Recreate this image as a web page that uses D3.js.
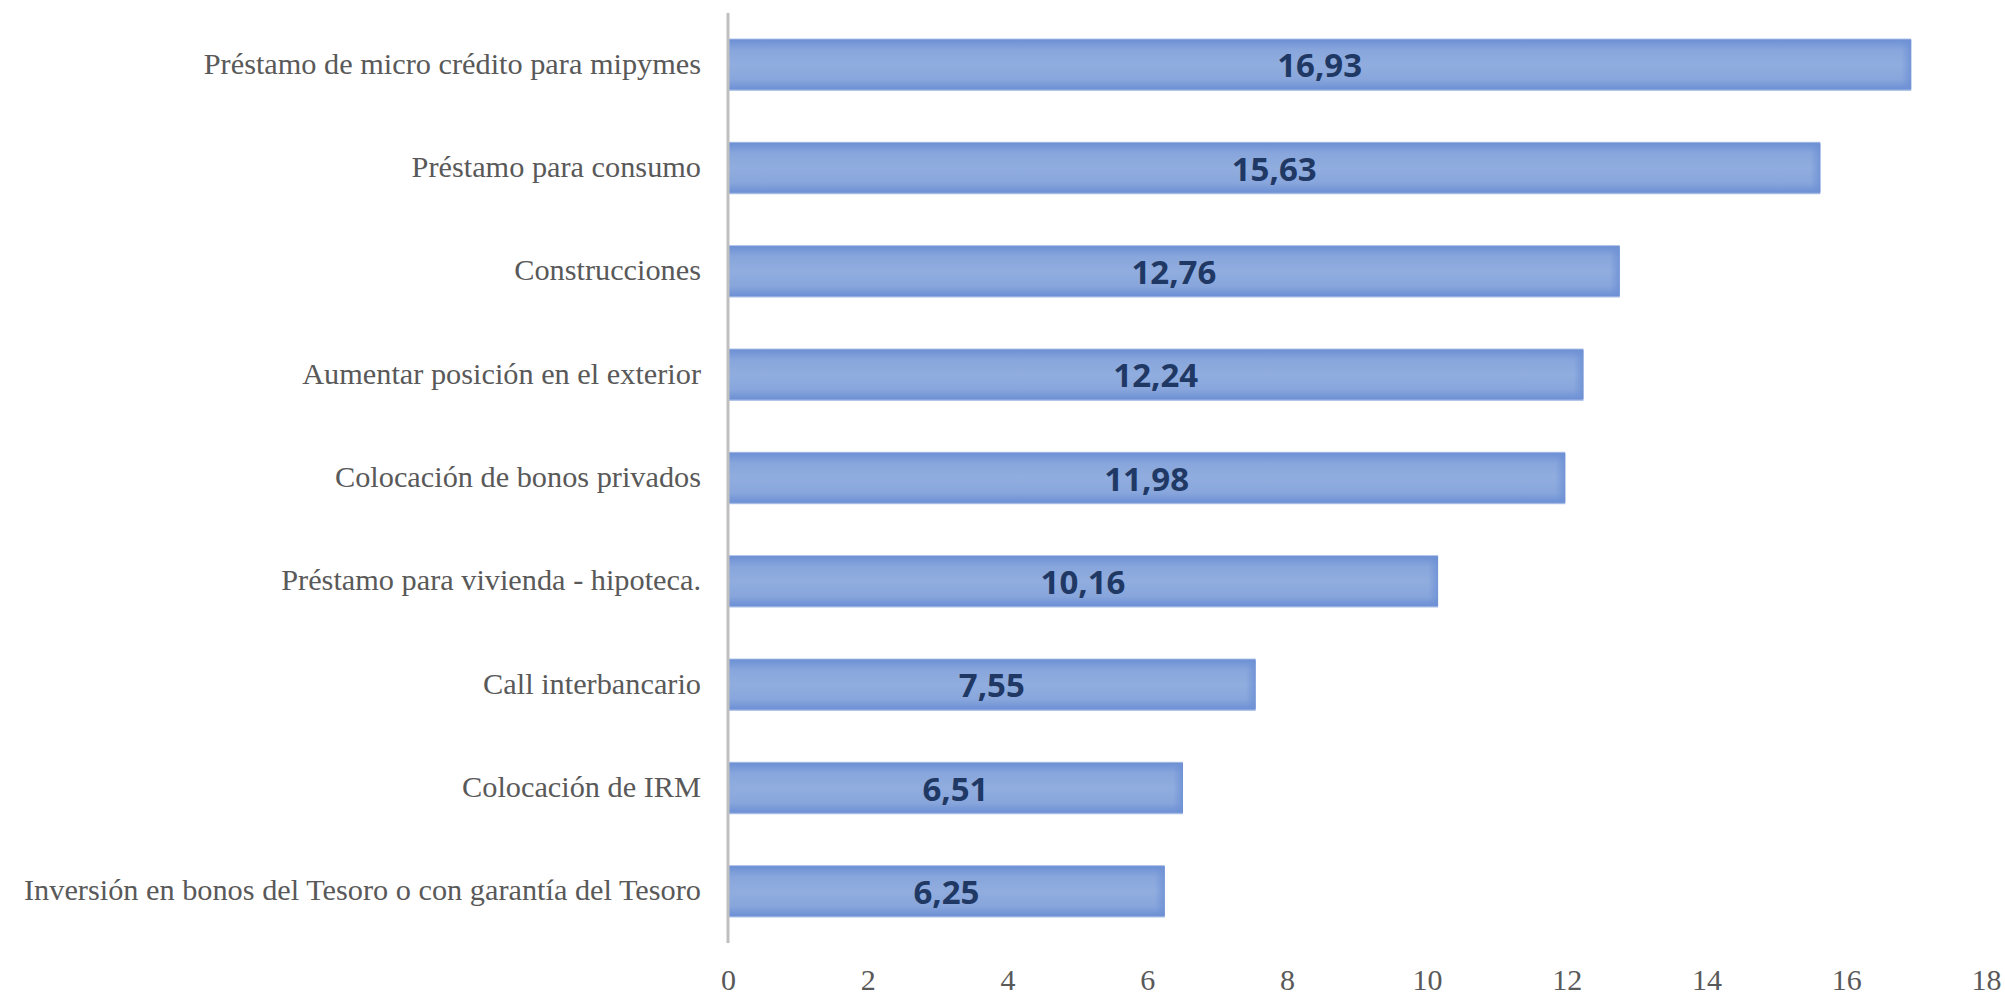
<!DOCTYPE html>
<html>
<head>
<meta charset="utf-8">
<script src="https://cdn.jsdelivr.net/npm/d3@7"></script>
<style>
  html, body { margin: 0; padding: 0; background: #ffffff; }
  svg { display: block; }
</style>
</head>
<body>
<svg id="chart" width="2005" height="995"></svg>
<script>
const categories = [
  "Préstamo de micro crédito para mipymes",
  "Préstamo para consumo",
  "Construcciones",
  "Aumentar posición en el exterior",
  "Colocación de bonos privados",
  "Préstamo para vivienda - hipoteca.",
  "Call interbancario",
  "Colocación de IRM",
  "Inversión en bonos del Tesoro o con garantía del Tesoro"
];
const values = [16.93, 15.63, 12.76, 12.24, 11.98, 10.16, 7.55, 6.51, 6.25];
const valueLabels = ["16,93", "15,63", "12,76", "12,24", "11,98", "10,16", "7,55", "6,51", "6,25"];
const xTicks = [0, 2, 4, 6, 8, 10, 12, 14, 16, 18];

const svg = d3.select("#chart");
const mLeft = 728, mRight = 1986, mTop = 13, mBottom = 943;

const x = d3.scaleLinear().domain([0, 18]).range([mLeft, mRight]);
const y = d3.scaleBand().domain(categories).range([mTop, mBottom]).paddingInner(0.49).paddingOuter(0.245);

const defs = svg.append("defs");
const grad = defs.append("linearGradient").attr("id", "barGrad")
  .attr("x1", 0).attr("y1", 0).attr("x2", 0).attr("y2", 1);
[["0%", "#d4def2"], ["3%", "#6e91d5"], ["22%", "#88a6dc"], ["50%", "#91addf"], ["78%", "#88a6dc"], ["96%", "#6e91d5"], ["100%", "#c9d6ef"]]
  .forEach(([o, c]) => grad.append("stop").attr("offset", o).attr("stop-color", c));
const gradR = defs.append("linearGradient").attr("id", "barGradR")
  .attr("x1", 0).attr("y1", 0).attr("x2", 1).attr("y2", 0);
[["0%", "#6e91d5", 0], ["100%", "#6e91d5", 0.85]]
  .forEach(([o, c, op]) => gradR.append("stop").attr("offset", o).attr("stop-color", c).attr("stop-opacity", op));

// bars
const bars = svg.append("g");
bars.selectAll("rect.bar").data(values).join("rect")
  .attr("class", "bar")
  .attr("x", x(0))
  .attr("y", (d, i) => y(categories[i]))
  .attr("width", d => x(d) - x(0))
  .attr("height", y.bandwidth())
  .attr("fill", "url(#barGrad)");
// right edge shading
bars.selectAll("rect.edge").data(values).join("rect")
  .attr("class", "edge")
  .attr("x", d => x(d) - 10)
  .attr("y", (d, i) => y(categories[i]) + 2)
  .attr("width", 10)
  .attr("height", y.bandwidth() - 4)
  .attr("fill", "url(#barGradR)");

// value labels
svg.append("g").selectAll("text").data(values).join("text")
  .attr("x", d => (x(0) + x(d)) / 2)
  .attr("y", (d, i) => y(categories[i]) + y.bandwidth() / 2)
  .attr("dy", "0.38em")
  .attr("text-anchor", "middle")
  .attr("font-family", "'Open Sans', sans-serif")
  .attr("font-weight", "bold")
  .attr("font-size", 33)
  .attr("fill", "#1f3864")
  .text((d, i) => valueLabels[i]);

// y axis line
svg.append("line")
  .attr("x1", x(0)).attr("x2", x(0))
  .attr("y1", mTop).attr("y2", mBottom)
  .attr("stroke", "#bfbfbf").attr("stroke-width", 3);

// y category labels via axis
const yAxis = d3.axisLeft(y).tickSize(0).tickPadding(27);
const gy = svg.append("g").attr("transform", `translate(${x(0)},0)`).call(yAxis);
gy.select(".domain").remove();
gy.selectAll("text")
  .attr("font-family", "'Liberation Serif', 'Times New Roman', serif")
  .attr("font-size", 30.3)
  .attr("fill", "#595959")
  .attr("dy", "0.3em");

// x tick labels via axis
const xAxis = d3.axisBottom(x).tickValues(xTicks).tickSize(0).tickPadding(0).tickFormat(d3.format("d"));
const gx = svg.append("g").attr("transform", `translate(0,990)`).call(xAxis);
gx.select(".domain").remove();
gx.selectAll("text")
  .attr("font-family", "'Liberation Serif', 'Times New Roman', serif")
  .attr("font-size", 30)
  .attr("fill", "#595959")
  .attr("y", 0)
  .attr("dy", 0);
</script>
</body>
</html>
